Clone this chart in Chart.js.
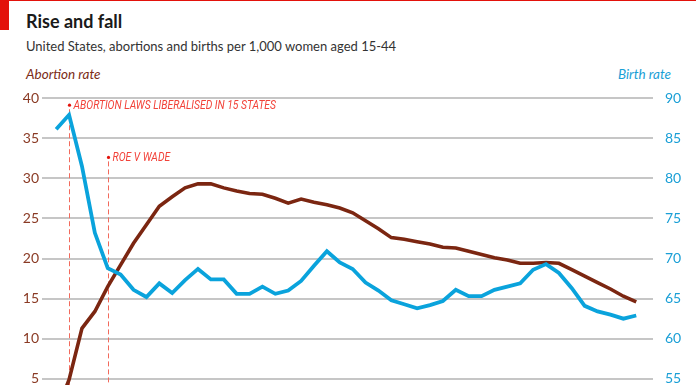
<!DOCTYPE html>
<html>
<head>
<meta charset="utf-8">
<script src="https://cdn.jsdelivr.net/npm/chart.js@4"></script>
<style>
  html, body { margin: 0; padding: 0; background: #fff; overflow: hidden; width: 696px; height: 385px; }
  #wrap { position: relative; width: 696px; height: 385px; font-family: Lato, "Open Sans", sans-serif; }
  #topline { position: absolute; left: 0; top: 0; width: 696px; height: 1px; background: #e3120b; }
  #tab { position: absolute; left: 0; top: 0; width: 9px; height: 30px; background: #e3120b; }
  #title { position: absolute; left: 26px; top: 10px; font-size: 18px; font-weight: bold; color: #1a1a1a; }
  #subtitle { position: absolute; left: 26px; top: 38px; font-size: 13px; color: #333; }
  #ltitle { position: absolute; left: 26px; top: 66px; font-size: 13.5px; font-style: italic; color: #7b2c16; }
  #rtitle { position: absolute; right: 25px; top: 66px; font-size: 13.5px; font-style: italic; color: #1aa0d6; }
  canvas { position: absolute; left: 0; top: 0; }
</style>
</head>
<body>
<div id="wrap">
  <div id="topline"></div>
  <div id="tab"></div>
  <div id="title">Rise and fall</div>
  <div id="subtitle">United States, abortions and births per 1,000 women aged 15-44</div>
  <div id="ltitle">Abortion rate</div>
  <div id="rtitle">Birth rate</div>
  <canvas id="chart" width="696" height="440"></canvas>
</div>
<script>
// years covered by both series
let years = [];
for (let y = 1969; y <= 2014; y++) years.push(y);

// abortions per 1,000 women aged 15-44
let abortionRate = [
    0.8, 4.9, 11.3, 13.4, 16.5, 19.2, 21.9, 24.2, 26.5, 27.7,
    28.8, 29.3, 29.3, 28.8, 28.4, 28.1, 28.0, 27.5, 26.9, 27.4,
    27.0, 26.7, 26.3, 25.7, 24.7, 23.7, 22.6, 22.4, 22.1, 21.8,
    21.4, 21.3, 20.9, 20.5, 20.1, 19.8, 19.4, 19.4, 19.5, 19.4,
    18.6, 17.8, 17.0, 16.2, 15.3, 14.6
];

// births per 1,000 women aged 15-44
let birthRate = [
    86.1, 87.9, 81.5, 73.2, 68.8, 68.0, 66.1, 65.2, 66.9, 65.7,
    67.3, 68.7, 67.4, 67.4, 65.6, 65.6, 66.5, 65.6, 66.0, 67.2,
    69.1, 70.9, 69.5, 68.7, 67.0, 66.0, 64.8, 64.3, 63.8, 64.2,
    64.7, 66.1, 65.3, 65.3, 66.1, 66.5, 66.9, 68.6, 69.3, 68.2,
    66.3, 64.1, 63.4, 63.0, 62.5, 62.9
];

let leftTicks = [0, 5, 10, 15, 20, 25, 30, 35, 40];
let rightTicks = [50, 55, 60, 65, 70, 75, 80, 85, 90];

// events marked on the chart: year, top of marker (abortion-rate units), label
let eventYears = [1970, 1973];
let eventTops = [39.1, 32.6];
let eventLabels = ['ABORTION LAWS LIBERALISED IN 15 STATES', 'ROE V WADE'];

const brown = '#7b2611';
const blue = '#0aa3dc';

const eventMarkers = {
    id: 'eventMarkers',
    beforeDatasetsDraw(chart) {
        const ctx = chart.ctx;
        const x = chart.scales.x;
        const y = chart.scales.yL;
        ctx.save();
        eventYears.forEach((yr, i) => {
            const px = Math.round(x.getPixelForValue(yr)) + 0.5;
            const top = y.getPixelForValue(eventTops[i]);
            ctx.strokeStyle = '#f26a5c';
            ctx.lineWidth = 1;
            ctx.setLineDash([5, 3]);
            ctx.beginPath();
            ctx.moveTo(px, top + 4);
            ctx.lineTo(px, chart.chartArea.bottom);
            ctx.stroke();
            ctx.setLineDash([]);
            ctx.fillStyle = '#e3120b';
            ctx.beginPath();
            ctx.arc(px, top, 1.6, 0, Math.PI * 2);
            ctx.fill();
            ctx.save();
            ctx.translate(px + 4, top + 1);
            ctx.scale(0.86, 1);
            ctx.font = 'italic 12px Roboto, sans-serif';
            ctx.fillStyle = '#f2433a';
            ctx.textBaseline = 'middle';
            ctx.fillText(eventLabels[i], 0, 0);
            ctx.restore();
        });
        ctx.restore();
    }
};

let ctx = document.getElementById('chart').getContext('2d');

let chart = new Chart(ctx, {
    type: 'line',
    data: {
        datasets: [{
            label: 'Birth rate',
            data: years.map((yr, i) => ({ x: yr, y: birthRate[i] })),
            yAxisID: 'yR',
            borderColor: blue,
            borderWidth: 3.8,
            pointRadius: 0,
            tension: 0
        }, {
            label: 'Abortion rate',
            data: years.map((yr, i) => ({ x: yr, y: abortionRate[i] })),
            yAxisID: 'yL',
            borderColor: brown,
            borderWidth: 3.6,
            pointRadius: 0,
            tension: 0
        }]
    },
    options: {
        responsive: false,
        animation: false,
        layout: { padding: { top: 98, left: 0, right: 0, bottom: 21 } },
        plugins: { legend: { display: false }, tooltip: { enabled: false } },
        scales: {
            x: {
                type: 'linear',
                min: 1967.9,
                max: 2015.3,
                display: false
            },
            yL: {
                position: 'left',
                min: 0,
                max: 40,
                afterBuildTicks: (axis) => { axis.ticks = leftTicks.map(v => ({ value: v })); },
                afterFit: (axis) => { axis.width = 42; },
                ticks: {
                    color: '#8a3a24',
                    font: { family: 'Lato, sans-serif', size: 14 },
                    padding: 3
                },
                grid: { color: '#c6c6c6', lineWidth: 2, drawTicks: false },
                border: { display: false }
            },
            yR: {
                position: 'right',
                min: 50,
                max: 90,
                afterBuildTicks: (axis) => { axis.ticks = rightTicks.map(v => ({ value: v })); },
                afterFit: (axis) => { axis.width = 43; },
                ticks: {
                    color: '#1a9fd6',
                    font: { family: 'Lato, sans-serif', size: 14 },
                    padding: 4
                },
                grid: { display: false },
                border: { display: false }
            }
        }
    },
    plugins: [eventMarkers]
});
</script>
</body>
</html>
